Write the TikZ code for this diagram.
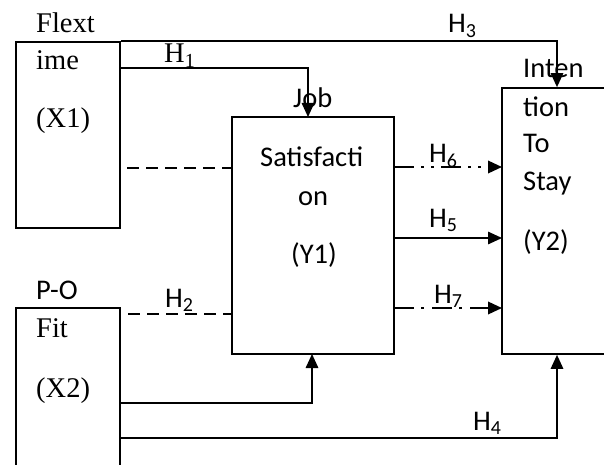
\documentclass[tikz,border=0pt]{standalone}
\usepackage{fontspec}
\setmainfont{Liberation Serif}
\newfontfamily\calib{Carlito}
\usetikzlibrary{arrows.meta}
\begin{document}
\begin{tikzpicture}[x=1pt,y=-1pt,
  boxst/.style={draw, line width=1.7pt, inner sep=0pt},
  sr/.style={inner sep=0pt, anchor=base west, font=\fontsize{28.5}{34}\selectfont},
  sn/.style={inner sep=0pt, anchor=base west, font=\calib\fontsize{28.5}{34}\selectfont},
  snc/.style={sn, anchor=base},
  arr/.style={line width=1.5pt, -{Triangle[length=14pt,width=12.5pt]}},
  dsh/.style={line width=1.5pt, dash pattern=on 12pt off 7pt},
  ddarr/.style={line width=2pt, dash pattern=on 20pt off 7pt on 3pt off 7pt on 3pt off 7pt, -{Triangle[length=14pt,width=12.5pt,sep=0pt]}},
  darr/.style={line width=2pt, dash pattern=on 20pt off 7pt on 3pt off 8pt, -{Triangle[length=14pt,width=12.5pt]}}]
\useasboundingbox (0,0) rectangle (604,465);
\clip (0,0) rectangle (604,465);
% boxes
\node[boxst, minimum width=104pt, minimum height=186pt] (X1) at (68,135) {};
\node[boxst, minimum width=104pt, minimum height=182pt] (X2) at (68,399) {};
\node[boxst, minimum width=162pt, minimum height=237pt] (Y1) at (313,235.5) {};
\node[boxst, minimum width=110pt, minimum height=266pt] (Y2) at (557,221) {};
% texts
\node[sr] (tflext) at (36,33) {Flext};
\node[sr] (time) at (36,70) {ime};
\node[sr] (tx1) at (36,128) {(X1)};
\node[sn] (tpo) at (36,299) {P-O};
\node[sr] (tfit) at (36,337) {Fit};
\node[sr] (tx2) at (36,397) {(X2)};
\node[sn] (tjob) at (293,108) {Job};
\node[sn] (tsat) at (260,167) {Satisfacti};
\node[snc] (ton) at (313,205) {on};
\node[snc] (ty1) at (314,263) {(Y1)};
\node[sn] (tint) at (523,78) {Inten};
\node[sn] (ttion) at (523,117) {tion};
\node[sn] (tto) at (523,153) {To};
\node[sn] (tstay) at (523,190) {Stay};
\node[sn] (ty2) at (523,250) {(Y2)};
% connector labels
\node[sr] (lh1) at (164,63) {H\textsubscript{1}};
\node[sn] (lh3) at (448,33) {H\textsubscript{3}};
\node[sn] (lh2) at (165,307) {H\textsubscript{2}};
\node[sn] (lh6) at (429,163) {H\textsubscript{6}};
\node[sn] (lh5) at (429,227) {H\textsubscript{5}};
\node[sn] (lh7) at (434,303) {H\textsubscript{7}};
\node[sn] (lh4) at (473,430) {H\textsubscript{4}};
% coordinates
\coordinate (h1s) at (120,68);
\coordinate (h1e) at (308,117);
\coordinate (d1s) at (127,168);
\coordinate (d1e) at (232,168);
\coordinate (h2s) at (128,314);
\coordinate (h2e) at (232,314);
\coordinate (b1s) at (120,403);
\coordinate (b1e) at (312,354);
\coordinate (h4s) at (120,438);
\coordinate (h6s) at (394,167);
\coordinate (h6e) at (502,167);
\coordinate (h5s) at (394,238);
\coordinate (h5e) at (502,238);
\coordinate (h7s) at (394,308);
\coordinate (h7e) at (502,308);
% connectors
\draw[arr] (X1.north east) -| (Y2.north);
\draw[arr] (h1s) -| (h1e);
\draw[dsh] (d1s) -- (d1e);
\draw[dsh] (h2s) -- (h2e);
\draw[arr] (b1s) -| (b1e);
\draw[arr] (h4s) -| (Y2.south);
\draw[ddarr] (h6s) -- (h6e);
\draw[arr] (h5s) -- (h5e);
\draw[darr] (h7s) -- (h7e);
\end{tikzpicture}
\end{document}
